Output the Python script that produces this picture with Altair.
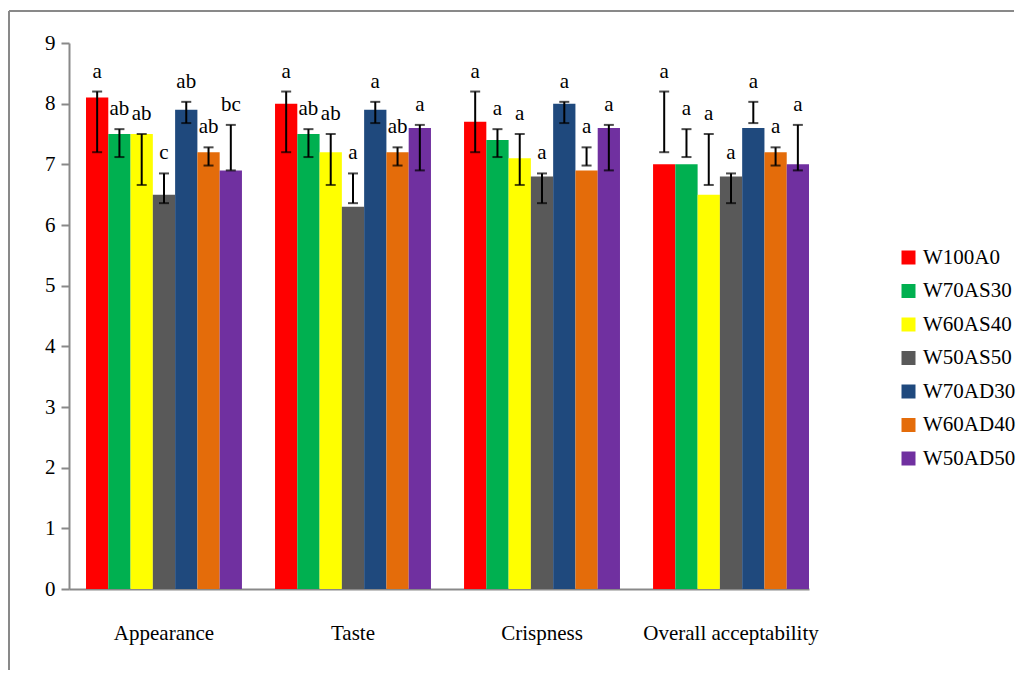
import altair as alt
import pandas as pd

categories = ["Appearance", "Taste", "Crispness", "Overall acceptability"]
series = ["W100A0", "W70AS30", "W60AS40", "W50AS50", "W70AD30", "W60AD40", "W50AD50"]
colors = ["#FF0000", "#00B050", "#FFFF00", "#595959", "#1F497D", "#E46C0A", "#7030A0"]

appearance = [8.1, 7.5, 7.5, 6.5, 7.9, 7.2, 6.9]
taste = [8.0, 7.5, 7.2, 6.3, 7.9, 7.2, 7.6]
crispness = [7.7, 7.4, 7.1, 6.8, 8.0, 6.9, 7.6]
overall = [7.0, 7.0, 6.5, 6.8, 7.6, 7.2, 7.0]

# error bar ends (same for every attribute in the source figure)
err_low = [7.2, 7.12, 6.66, 6.36, 7.68, 6.98, 6.9]
err_high = [8.2, 7.58, 7.5, 6.85, 8.03, 7.28, 7.65]

letters_appearance = ["a", "ab", "ab", "c", "ab", "ab", "bc"]
letters_taste = ["a", "ab", "ab", "a", "a", "ab", "a"]
letters_crispness = ["a", "a", "a", "a", "a", "a", "a"]
letters_overall = ["a", "a", "a", "a", "a", "a", "a"]

rows = []
for cat, vals, lets in zip(
    categories,
    [appearance, taste, crispness, overall],
    [letters_appearance, letters_taste, letters_crispness, letters_overall],
):
    for i, s in enumerate(series):
        rows.append(dict(category=cat, series=s, value=vals[i],
                         lo=err_low[i], hi=err_high[i], letter=lets[i]))
df = pd.DataFrame(rows)

FONT = "Liberation Serif"
FS = 21
AX = "#898989"

x = alt.X(
    "category:N", sort=categories, title=None,
    scale=alt.Scale(paddingInner=0.175, paddingOuter=0.045, align=1),
    axis=alt.Axis(labelAngle=0, ticks=False, tickSize=0, labelPadding=33,
                  domainColor=AX, domainWidth=2, labelFont=FONT,
                  labelFontSize=FS, labelColor="black"),
)
xo = alt.XOffset("series:N", sort=series,
                 scale=alt.Scale(paddingInner=0, paddingOuter=0))
yscale = alt.Scale(domain=[0, 9], nice=False)
yaxis = alt.Axis(values=list(range(10)), grid=False, domainColor=AX,
                 domainWidth=2, tickColor=AX, tickWidth=2, tickSize=8,
                 labelPadding=6, labelFont=FONT, labelFontSize=FS,
                 labelColor="black")


def yenc(field):
    return alt.Y(field, scale=yscale, title=None, axis=yaxis)


color = alt.Color(
    "series:N", sort=series,
    scale=alt.Scale(domain=series, range=colors),
    legend=alt.Legend(title=None, orient="none", legendX=829, legendY=204,
                      symbolType="square", symbolSize=196, symbolStrokeWidth=0,
                      labelFont=FONT, labelFontSize=FS, labelColor="black",
                      labelOffset=4, rowPadding=11.5, padding=0),
)

bars = alt.Chart(df).mark_bar(opacity=1).encode(
    x=x, xOffset=xo, y=yenc("value:Q"), color=color)

err = alt.Chart(df).mark_rule(color="black", strokeWidth=2).encode(
    x=x, xOffset=xo, y=yenc("lo:Q"), y2="hi:Q")
cap_lo = alt.Chart(df).mark_tick(color="black", thickness=2, size=10).encode(
    x=x, xOffset=xo, y=yenc("lo:Q"))
cap_hi = alt.Chart(df).mark_tick(color="black", thickness=2, size=10).encode(
    x=x, xOffset=xo, y=yenc("hi:Q"))
labels = alt.Chart(df).mark_text(font=FONT, fontSize=FS, color="black",
                                 baseline="alphabetic", dy=-14).encode(
    x=x, xOffset=xo, y=yenc("hi:Q"), text="letter:N")

one = pd.DataFrame({"k": [0]})
border_left = alt.Chart(one).mark_rule(color=AX, strokeWidth=2).encode(
    x=alt.value(-60), y=alt.value(-32), y2=alt.value(627))
border_top = alt.Chart(one).mark_rule(color=AX, strokeWidth=2).encode(
    x=alt.value(-60), x2=alt.value(945), y=alt.value(-32))

chart = alt.layer(bars, err, cap_lo, cap_hi, labels, border_left, border_top).properties(
    width=740, height=546,
    padding={"left": 0, "top": 2, "right": 0, "bottom": 0},
    background="white",
).configure_view(stroke=None)

chart.save("out.html", embed_options={"renderer": "svg", "actions": False})
